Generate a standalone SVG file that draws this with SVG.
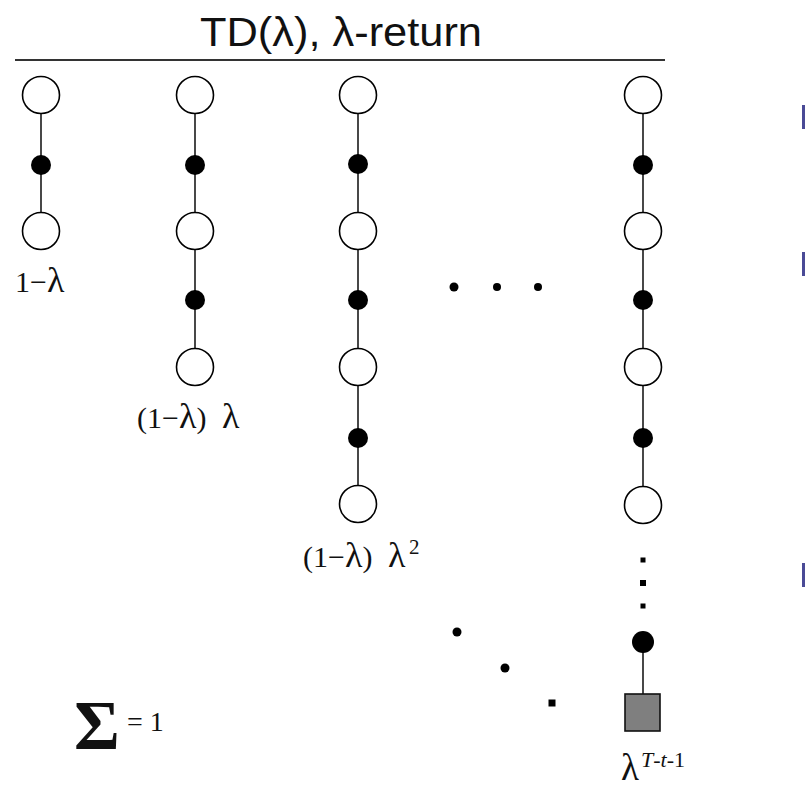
<svg xmlns="http://www.w3.org/2000/svg" width="810" height="789" viewBox="0 0 810 789">
  <style>
    .state { fill: #ffffff; stroke: #000000; stroke-width: 1.6; }
    .action { fill: #000000; }
    .edge { stroke: #1a1a1a; stroke-width: 1.6; fill: none; }
    .dot { fill: #000000; }
    .serif { font-family: "Liberation Serif", "Times New Roman", serif; fill: #111111; }
    .lam { font-size: 36px; }
    .sans { font-family: "Liberation Sans", Arial, sans-serif; fill: #111111; }
    .bullet { fill: #4a4a96; }
  </style>

  <rect width="810" height="789" fill="#ffffff"/>

  <!-- title and rule -->
  <text class="sans" x="341" y="46" font-size="40" text-anchor="middle" textLength="282" lengthAdjust="spacingAndGlyphs">TD(λ), λ-return</text>
  <line x1="15" y1="60" x2="665" y2="60" stroke="#333333" stroke-width="2"/>

  <!-- connectors -->
  <g id="connectors" class="edge">
    <line x1="41" y1="113" x2="41" y2="213"/>
    <line x1="195" y1="113" x2="195" y2="349"/>
    <line x1="358" y1="113" x2="358" y2="486"/>
    <line x1="643" y1="113" x2="643" y2="487"/>
    <line x1="643" y1="642" x2="643" y2="694"/>
  </g>

  <!-- backup 1: one step -->
  <g id="backup1">
    <circle class="state" cx="41" cy="95" r="18.5"/>
    <circle class="action" cx="41" cy="165" r="10"/>
    <circle class="state" cx="41" cy="231" r="18.5"/>
    <text class="serif" x="15" y="292" font-size="30">1−<tspan class="lam">λ</tspan></text>
  </g>

  <!-- backup 2: two steps -->
  <g id="backup2">
    <circle class="state" cx="195" cy="95" r="18.5"/>
    <circle class="action" cx="195" cy="165" r="10"/>
    <circle class="state" cx="195" cy="231" r="18.5"/>
    <circle class="action" cx="195" cy="300" r="10"/>
    <circle class="state" cx="195" cy="367" r="18.5"/>
    <text class="serif" x="137" y="428" font-size="30">(1−<tspan class="lam">λ</tspan>)</text>
    <text class="serif lam" x="222" y="428">λ</text>
  </g>

  <!-- backup 3: three steps -->
  <g id="backup3">
    <circle class="state" cx="358" cy="95" r="18.5"/>
    <circle class="action" cx="358" cy="164" r="10"/>
    <circle class="state" cx="358" cy="231" r="18.5"/>
    <circle class="action" cx="358" cy="300" r="10"/>
    <circle class="state" cx="358" cy="367" r="18.5"/>
    <circle class="action" cx="358" cy="438" r="10"/>
    <circle class="state" cx="358" cy="504" r="18.5"/>
    <text class="serif" x="303" y="567" font-size="30">(1−<tspan class="lam">λ</tspan>)</text>
    <text class="serif lam" x="388" y="567">λ</text>
    <text class="serif" x="409" y="554" font-size="21">2</text>
  </g>

  <!-- ellipsis between backups -->
  <g id="ellipsis-h">
    <circle class="dot" cx="454" cy="287" r="4.5"/>
    <circle class="dot" cx="497" cy="287" r="4"/>
    <circle class="dot" cx="538" cy="287" r="4"/>
  </g>

  <!-- backup n: full return to terminal -->
  <g id="backupN">
    <circle class="state" cx="643" cy="95" r="18.5"/>
    <circle class="action" cx="643" cy="165" r="10"/>
    <circle class="state" cx="643" cy="231" r="18.5"/>
    <circle class="action" cx="643" cy="300" r="10"/>
    <circle class="state" cx="643" cy="367" r="18.5"/>
    <circle class="action" cx="643" cy="438" r="10"/>
    <circle class="state" cx="643" cy="505" r="18.5"/>
    <rect class="dot" x="640.5" y="557.5" width="5" height="5"/>
    <rect class="dot" x="640" y="580" width="6" height="6"/>
    <rect class="dot" x="640.5" y="603.5" width="5" height="5"/>
    <circle class="action" cx="643" cy="642" r="11"/>
    <rect x="625" y="694" width="35" height="37" fill="#7f7f7f" stroke="#111111" stroke-width="1.6"/>
    <text class="serif" x="621" y="780" font-size="37">λ</text>
    <text class="serif" x="641" y="767" font-size="22"><tspan font-style="italic">T</tspan>-<tspan font-style="italic">t</tspan>-1</text>
  </g>

  <!-- diagonal ellipsis -->
  <g id="ellipsis-d">
    <circle class="dot" cx="457" cy="632" r="4.5"/>
    <circle class="dot" cx="505" cy="668" r="4.5"/>
    <rect class="dot" x="548.5" y="699.5" width="7" height="7"/>
  </g>

  <!-- sum -->
  <g id="sum">
    <text class="serif" x="74" y="749" font-size="70" font-weight="bold">Σ</text>
    <text class="serif" x="127" y="731" font-size="28">= 1</text>
  </g>

  <!-- bullet marks at right edge -->
  <rect class="bullet" x="802" y="105" width="3" height="24"/>
  <rect class="bullet" x="802" y="252" width="3" height="24"/>
  <rect class="bullet" x="802" y="563" width="3" height="24"/>
</svg>
